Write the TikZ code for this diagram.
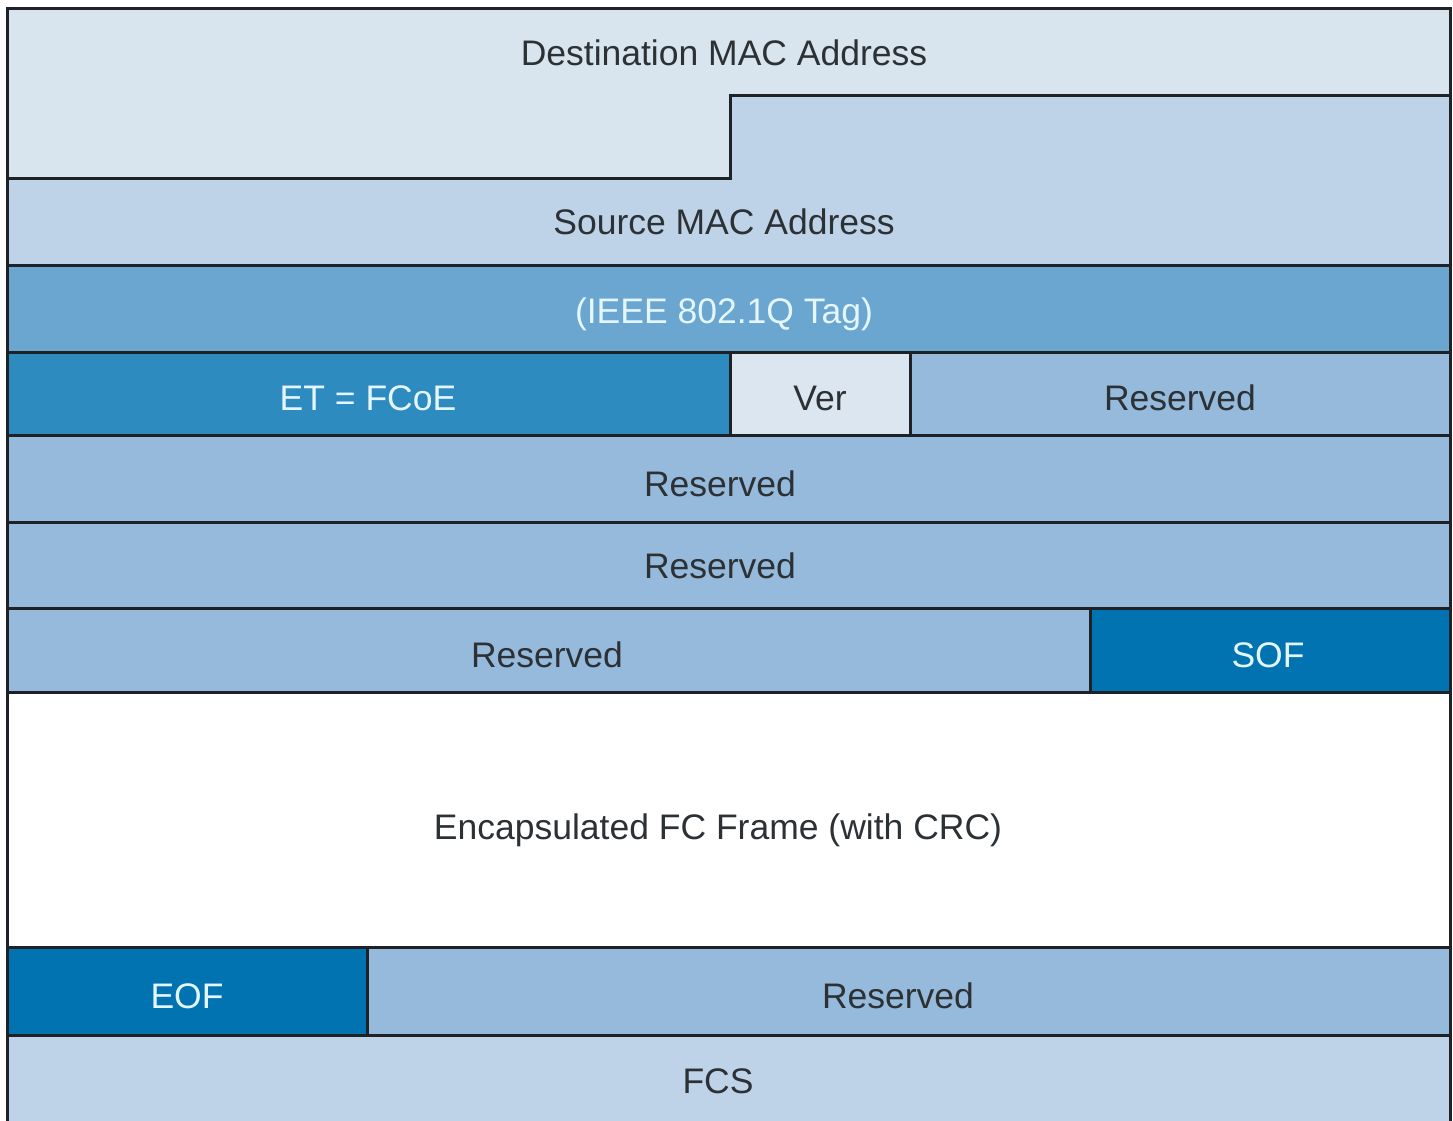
\documentclass[tikz,border=0pt]{standalone}
\usepackage{fontspec}
\setmainfont{Liberation Sans}
\definecolor{cDest}{HTML}{D8E4EE}
\definecolor{cSrc}{HTML}{BED3E8}
\definecolor{cTag}{HTML}{6AA6CF}
\definecolor{cET}{HTML}{2E8BC0}
\definecolor{cVer}{HTML}{DCE6F0}
\definecolor{cRes}{HTML}{96BADB}
\definecolor{cSOF}{HTML}{0073B0}
\definecolor{cLine}{HTML}{1E2226}
\definecolor{cTxt}{HTML}{2C3135}
\definecolor{cTxtL}{HTML}{E4F6FF}
\begin{document}
\begin{tikzpicture}[x=1pt,y=-1pt,
  cell/.style={draw=cLine,line width=3pt,line join=miter},
  lbl/.style={font=\fontsize{35.5}{40}\selectfont,text=cTxt,inner sep=0pt,anchor=base},
  lbll/.style={lbl,text=cTxtL}]
\useasboundingbox (0,0) rectangle (1453,1120);
\fill[white] (0,0) rectangle (1453,1120);
% Destination (stepped)
\filldraw[cell,fill=cDest] (7,8) -- (1450,8) -- (1450,95) -- (730,95) -- (730,178) -- (7,178) -- cycle;
% Source (stepped)
\filldraw[cell,fill=cSrc] (7,178) -- (730,178) -- (730,95) -- (1450,95) -- (1450,265) -- (7,265) -- cycle;
% Tag
\filldraw[cell,fill=cTag] (7,265) rectangle (1450,352);
% ET / Ver / Reserved
\filldraw[cell,fill=cET] (7,352) rectangle (730,435);
\filldraw[cell,fill=cVer] (730,352) rectangle (910,435);
\filldraw[cell,fill=cRes] (910,352) rectangle (1450,435);
% Reserved rows
\filldraw[cell,fill=cRes] (7,435) rectangle (1450,522);
\filldraw[cell,fill=cRes] (7,522) rectangle (1450,608);
\filldraw[cell,fill=cRes] (7,608) rectangle (1090,692);
\filldraw[cell,fill=cSOF] (1090,608) rectangle (1450,692);
% Encapsulated
\filldraw[cell,fill=white] (7,692) rectangle (1450,947);
% EOF / Reserved
\filldraw[cell,fill=cSOF] (7,947) rectangle (367,1035);
\filldraw[cell,fill=cRes] (367,947) rectangle (1450,1035);
% FCS
\filldraw[cell,fill=cSrc] (7,1035) rectangle (1450,1125);
% labels
\node[lbl] (dest) at (724,65) {Destination MAC Address};
\node[lbl] (src) at (724,234) {Source MAC Address};
\node[lbll] (tag) at (724,323) {(IEEE 802.1Q Tag)};
\node[lbll] (et) at (368,410) {ET = FCoE};
\node[lbl] (ver) at (820,410) {Ver};
\node[lbl] (res1) at (1180,410) {Reserved};
\node[lbl] (res2) at (720,496) {Reserved};
\node[lbl] (res3) at (720,578) {Reserved};
\node[lbl] (res4) at (547,667) {Reserved};
\node[lbll] (sof) at (1268,667) {SOF};
\node[lbl] (enc) at (718,839) {Encapsulated FC Frame (with CRC)};
\node[lbll] (eof) at (187,1008) {EOF};
\node[lbl] (res5) at (898,1008) {Reserved};
\node[lbl] (fcs) at (718,1093) {FCS};
\end{tikzpicture}
\end{document}
